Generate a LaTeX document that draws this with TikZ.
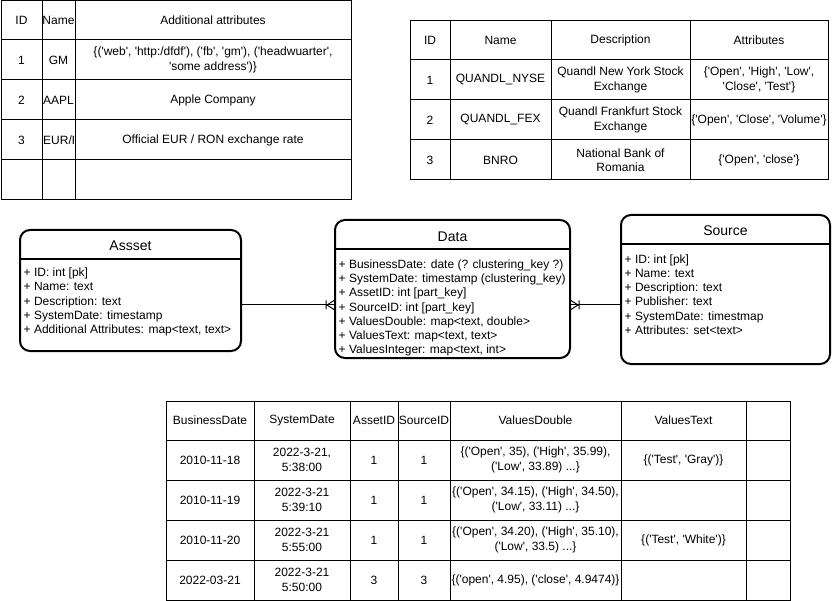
\documentclass[tikz,border=0pt]{standalone}
\usepackage{fontspec}
\setmainfont{Liberation Sans}[Ligatures=TeXOff]
\usetikzlibrary{calc}
\tikzset{
  grid/.style={line width=1pt, draw=black},
  cell/.style={font=\fontsize{12}{14.5}\selectfont, align=center, inner sep=0pt, text=black},
  entity/.style={draw=black, line width=2pt, rounded corners=10pt, inner sep=0pt, fill=white},
  sepline/.style={line width=2pt, draw=black},
  etitle/.style={font=\fontsize{14}{16}\selectfont, inner sep=0pt},
  eattr/.style={font=\fontsize{12}{14.25}\selectfont, align=left, inner sep=0pt, anchor=west},
  link/.style={line width=1pt, draw=black},
}
\begin{document}
\begin{tikzpicture}[x=1pt,y=-1pt]
\useasboundingbox (0,0) rectangle (832,601);
\fill[white] (0,0) rectangle (832,601);

% ---------- Table A (top left) ----------
\draw[grid] (1,0.5) rectangle (351,200);
\foreach \xx in {42,75} \draw[grid] (\xx,0.5) -- (\xx,200);
\foreach \yy in {40,80,120,160} \draw[grid] (1,\yy) -- (351,\yy);
\node[cell] (aid) at (21.5,20) {ID};
\node[cell] (aname) at (58.5,20) {Name};
\node[cell] (aattr) at (213,20) {Additional attributes};
\node[cell] (a1id) at (21.5,60) {1};
\node[cell] (a1name) at (58.5,60) {GM};
\node[cell] (a1attr) at (213,60) {\{('web', 'http:/dfdf'), ('fb', 'gm'), ('headwuarter',\\'some address')\}};
\node[cell] (a2id) at (21.5,100) {2};
\node[cell] (a2name) at (58.5,100) {AAPL};
\node[cell] (a2attr) at (213,100) {Apple Company};
\node[cell] (a3id) at (21.5,140) {3};
\begin{scope}
  \clip (42,121) rectangle (73,159);
  \node[cell, anchor=west] (a3name) at (43,140) {EUR/RON};
\end{scope}
\node[cell] (a3attr) at (213,140) {Official EUR / RON exchange rate};

% ---------- Table B (top right) ----------
\draw[grid] (410,21) rectangle (828,180);
\foreach \xx in {450,551,690} \draw[grid] (\xx,21) -- (\xx,180);
\foreach \yy in {60,100,140} \draw[grid] (410,\yy) -- (828,\yy);
\node[cell] (bid) at (430,40.5) {ID};
\node[cell] (bname) at (500.5,40.5) {Name};
\node[cell] (bdesc) at (620.5,40.5) {Description};
\node[cell] (battr) at (759,40.5) {Attributes};
\node[cell] (b1id) at (430,80) {1};
\node[cell] (b1name) at (500.5,80) {QUANDL\_NYSE};
\node[cell] (b1desc) at (620.5,80) {Quandl New York Stock\\Exchange};
\node[cell] (b1attr) at (759,80) {\{'Open', 'High', 'Low',\\'Close', 'Test'\}};
\node[cell] (b2id) at (430,120) {2};
\node[cell] (b2name) at (500.5,120) {QUANDL\_FEX};
\node[cell] (b2desc) at (620.5,120) {Quandl Frankfurt Stock\\Exchange};
\node[cell] (b2attr) at (759,120) {\{'Open', 'Close', 'Volume'\}};
\node[cell] (b3id) at (430,160) {3};
\node[cell] (b3name) at (500.5,160) {BNRO};
\node[cell] (b3desc) at (620.5,160) {National Bank of\\Romania};
\node[cell] (b3attr) at (759,160) {\{'Open', 'close'\}};

% ---------- Entities ----------
\node[entity, minimum width=221pt, minimum height=121pt] (asset) at (130.5,290.5) {};
\draw[sepline] (20,259) -- (241,259);
\node[etitle] (assettitle) at (130.5,246) {Assset};
\node[eattr] (assetattrs) at (23.5,302) {+ ID: int [pk]\\+ Name: text\\+ Description: text\\+ SystemDate: timestamp\\+ Additional Attributes: map<text, text>};

\node[entity, minimum width=235pt, minimum height=138pt] (data) at (452.5,289) {};
\draw[sepline] (335,249) -- (570,249);
\node[etitle] (datatitle) at (452.5,237) {Data};
\node[eattr] (dataattrs) at (338.5,308) {+ BusinessDate: date (? clustering\_key ?)\\+ SystemDate: timestamp (clustering\_key)\\+ AssetID: int [part\_key]\\+ SourceID: int [part\_key]\\+ ValuesDouble: map<text, double>\\+ ValuesText: map<text, text>\\+ ValuesInteger: map<text, int>};

\node[entity, minimum width=209pt, minimum height=149pt] (source) at (725.5,289.5) {};
\draw[sepline] (621,244) -- (830,244);
\node[etitle] (sourcetitle) at (725.5,231) {Source};
\node[eattr] (sourceattrs) at (624.5,294.5) {+ ID: int [pk]\\+ Name: text\\+ Description: text\\+ Publisher: text\\+ SystemDate: timestmap\\+ Attributes: set<text>};

% ---------- Connectors ----------
\coordinate (lk) at (0,305);
\coordinate (dw) at (data.west |- lk);
\coordinate (de) at (data.east |- lk);
\draw[link] (asset.east |- lk) -- (dw);
\draw[link] (de) -- (source.west |- lk);
\draw[link, shift={(dw)}] (-8,-4.5) -- (-8,4.5) (0,-4.5) -- (-7,0) -- (0,4.5);
\draw[link, shift={(de)}] (8,-4.5) -- (8,4.5) (0,-4.5) -- (7,0) -- (0,4.5);

% ---------- Table C (bottom) ----------
\draw[grid] (166,401) rectangle (790,600);
\foreach \xx in {254,350,398,450,621,746} \draw[grid] (\xx,401) -- (\xx,600);
\foreach \yy in {440,480,520,560} \draw[grid] (166,\yy) -- (790,\yy);
\node[cell] (cbd) at (210,420.5) {BusinessDate};
\node[cell] (csd) at (302,420.5) {SystemDate};
\node[cell] (caid) at (374,420.5) {AssetID};
\node[cell] (csid) at (424,420.5) {SourceID};
\node[cell] (cvd) at (535.5,420.5) {ValuesDouble};
\node[cell] (cvt) at (683.5,420.5) {ValuesText};

\node[cell] (c1bd) at (210,460) {2010-11-18};
\node[cell] (c1sd) at (302,460) {2022-3-21,\\5:38:00};
\node[cell] (c1aid) at (374,460) {1};
\node[cell] (c1sid) at (424,460) {1};
\node[cell] (c1vd) at (535.5,460) {\{('Open', 35), ('High', 35.99),\\('Low', 33.89) ...\}};
\node[cell] (c1vt) at (683.5,460) {\{('Test', 'Gray')\}};

\node[cell] (c2bd) at (210,500) {2010-11-19};
\node[cell] (c2sd) at (302,500) {2022-3-21\\5:39:10};
\node[cell] (c2aid) at (374,500) {1};
\node[cell] (c2sid) at (424,500) {1};
\node[cell] (c2vd) at (535.5,500) {\{('Open', 34.15), ('High', 34.50),\\('Low', 33.11) ...\}};

\node[cell] (c3bd) at (210,540) {2010-11-20};
\node[cell] (c3sd) at (302,540) {2022-3-21\\5:55:00};
\node[cell] (c3aid) at (374,540) {1};
\node[cell] (c3sid) at (424,540) {1};
\node[cell] (c3vd) at (535.5,540) {\{('Open', 34.20), ('High', 35.10),\\('Low', 33.5) ...\}};
\node[cell] (c3vt) at (683.5,540) {\{('Test', 'White')\}};

\node[cell] (c4bd) at (210,580) {2022-03-21};
\node[cell] (c4sd) at (302,580) {2022-3-21\\5:50:00};
\node[cell] (c4aid) at (374,580) {3};
\node[cell] (c4sid) at (424,580) {3};
\node[cell] (c4vd) at (535.5,580) {\{('open', 4.95), ('close', 4.9474)\}};
\end{tikzpicture}
\end{document}
